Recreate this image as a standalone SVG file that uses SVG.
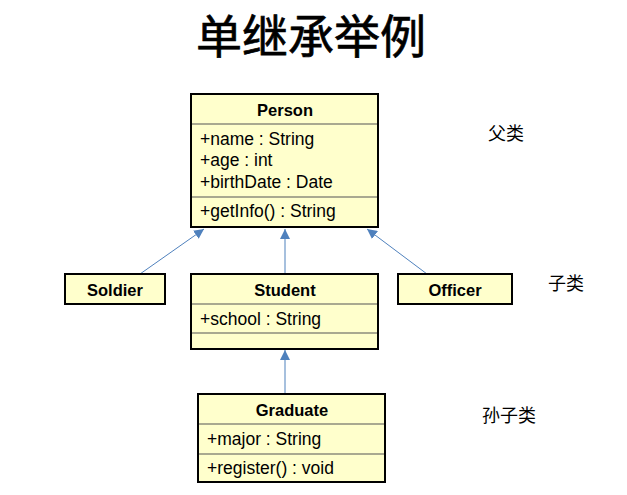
<svg xmlns="http://www.w3.org/2000/svg" width="627" height="495" viewBox="0 0 627 495">
<defs>
<marker id="arr" viewBox="0 0 10 10" refX="10" refY="5" markerWidth="10" markerHeight="10" markerUnits="userSpaceOnUse" orient="auto">
<path d="M0,0 L10,5 L0,10 z" fill="#4F81BD"/>
</marker>
</defs>
<style>
.box{fill:#FFFFCC;stroke:#000;stroke-width:2}
.div{stroke:#555;stroke-width:1.2}
.t{font-family:"Liberation Sans",Arial,sans-serif;font-size:17.5px;fill:#000}
.b{font-weight:bold;text-anchor:middle;font-size:16.5px}
.cn{font-family:"Noto Sans CJK SC",sans-serif;font-size:18px;fill:#000}
.c{stroke:#4F81BD;stroke-width:1;fill:none;marker-end:url(#arr)}
</style>
<rect width="627" height="495" fill="#fff"/>
<text x="311" y="53" text-anchor="middle" style="font-family:'Noto Sans CJK SC',sans-serif;font-size:46px;fill:#000;stroke:#000;stroke-width:0.7">单继承举例</text>
<g id="connectors">
<line class="c" x1="140" y1="274" x2="204" y2="229"/>
<line class="c" x1="285" y1="274" x2="285" y2="229"/>
<line class="c" x1="427" y1="274" x2="367" y2="229"/>
<line class="c" x1="285" y1="394" x2="285" y2="350"/>
</g>
<g id="Person">
<rect class="box" x="191" y="94" width="187" height="133"/>
<line class="div" x1="192" y1="124" x2="377" y2="124"/>
<line class="div" x1="192" y1="197" x2="377" y2="197"/>
<text class="t b" x="285" y="116">Person</text>
<text class="t" x="200" y="145">+name : String</text>
<text class="t" x="200" y="166">+age : int</text>
<text class="t" x="200" y="188">+birthDate : Date</text>
<text class="t" x="200" y="217">+getInfo() : String</text>
</g>
<g id="Soldier">
<rect class="box" x="65" y="274" width="100" height="30"/>
<text class="t b" x="115" y="296">Soldier</text>
</g>
<g id="Student">
<rect class="box" x="191" y="274" width="187" height="75"/>
<line class="div" x1="192" y1="304" x2="377" y2="304"/>
<line class="div" x1="192" y1="333" x2="377" y2="333"/>
<text class="t b" x="285" y="296">Student</text>
<text class="t" x="200" y="325">+school : String</text>
</g>
<g id="Officer">
<rect class="box" x="398" y="274" width="114" height="30"/>
<text class="t b" x="455" y="296">Officer</text>
</g>
<g id="Graduate">
<rect class="box" x="198" y="394" width="187" height="88"/>
<line class="div" x1="199" y1="424" x2="384" y2="424"/>
<line class="div" x1="199" y1="454" x2="384" y2="454"/>
<text class="t b" x="292" y="416">Graduate</text>
<text class="t" x="207" y="445">+major : String</text>
<text class="t" x="207" y="474">+register() : void</text>
</g>
<text class="cn" x="506" y="140" text-anchor="middle">父类</text>
<text class="cn" x="566" y="290" text-anchor="middle">子类</text>
<text class="cn" x="509" y="422" text-anchor="middle">孙子类</text>
</svg>
